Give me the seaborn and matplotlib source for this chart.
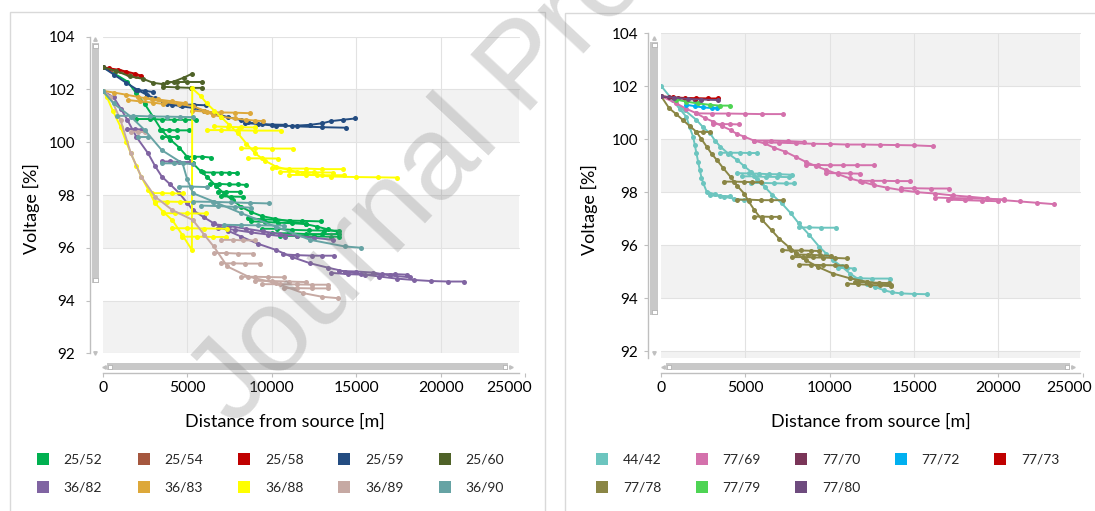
import numpy as np
import pandas as pd
import matplotlib
matplotlib.use("Agg")
import matplotlib.pyplot as plt
import matplotlib.transforms as mtransforms
from matplotlib.patches import Rectangle
from matplotlib.lines import Line2D
import seaborn as sns

# ---------------------------------------------------------------- data (left)
labels_left = ["25/52", "25/54", "25/58", "25/59", "25/60",
               "36/82", "36/83", "36/88", "36/89", "36/90"]
colors_left = ["#00B050", "#A5573E", "#C00000", "#234C81", "#4F6228",
               "#8064A2", "#DDA83A", "#FFFF00", "#C6A9A3", "#66A3A4"]

s25_52 = [
    [(0, 102.85), (700, 102.6), (1470, 102.3), (2000, 101.85), (2490, 101.45), (3000, 100.95),
     (3500, 100.45), (4000, 100.1), (4530, 99.8), (5000, 99.45), (5340, 99.2), (5800, 98.9),
     (6160, 98.7), (6700, 98.35), (7180, 98.05), (7700, 97.8), (8200, 97.55), (8800, 97.35),
     (9420, 97.2), (10200, 97.1), (11060, 97.0), (12000, 96.9), (12690, 96.8), (13300, 96.7),
     (13910, 96.6)],
    [(2000, 100.88), (2800, 100.88), (3500, 100.86), (4200, 100.85), (4900, 100.85), (5550, 100.85)],
    [(3400, 100.46), (3900, 100.46), (4400, 100.45), (5100, 100.45)],
    [(3500, 100.2), (3900, 100.2), (4370, 100.2)],
    [(4940, 99.45), (5400, 99.45), (5900, 99.45), (6400, 99.42)],
    [(5960, 98.86), (6500, 98.85), (7000, 98.85), (7500, 98.84), (7920, 98.83)],
    [(6360, 98.42), (6900, 98.42), (7500, 98.4), (8000, 98.4), (8500, 98.38)],
    [(6800, 98.13), (7300, 98.12), (8100, 98.12)],
    [(7000, 97.95), (7600, 97.94), (8300, 97.93)],
    [(8600, 97.12), (9400, 97.08), (10200, 97.06), (11000, 97.03), (11800, 97.02), (12900, 97.0)],
    [(8800, 97.0), (9600, 96.98), (10400, 96.95), (11200, 96.93), (12000, 96.9)],
    [(9420, 96.72), (10300, 96.72), (11200, 96.68), (12200, 96.66), (13100, 96.65), (14000, 96.65)],
    [(10000, 96.55), (11000, 96.55), (12000, 96.52), (13000, 96.52), (14000, 96.52)],
    [(10500, 96.45), (11500, 96.45), (12500, 96.43), (13500, 96.42), (14000, 96.42)],
]
s25_54 = [
    [(0, 102.85), (500, 102.75), (1000, 102.7), (1500, 102.6), (2000, 102.5)],
]
s25_58 = [
    [(0, 102.85), (400, 102.8), (900, 102.75), (1400, 102.68), (1900, 102.6), (2300, 102.52)],
]
s25_59 = [
    [(0, 102.85), (700, 102.55), (1400, 102.25), (2080, 101.98), (2600, 101.8), (3100, 101.66),
     (3600, 101.52), (4120, 101.42), (4700, 101.36), (5340, 101.3), (6000, 101.2), (6570, 101.1),
     (7400, 100.95), (8200, 100.84), (8600, 100.75), (9400, 100.68), (10240, 100.62),
     (11200, 100.62), (12280, 100.66), (13000, 100.72), (13500, 100.8), (14200, 100.85),
     (14930, 100.9)],
    [(2000, 101.98), (2500, 101.95), (3000, 101.9)],
    [(3800, 101.45), (4600, 101.43), (5400, 101.42), (6100, 101.4)],
    [(8400, 100.72), (9200, 100.7), (10000, 100.67), (10800, 100.66)],
    [(11500, 100.6), (13000, 100.57), (14420, 100.55)],
]
s25_60 = [
    [(0, 102.85), (800, 102.7), (1600, 102.5), (2400, 102.4), (3000, 102.25), (3600, 102.2),
     (4200, 102.3), (4800, 102.45), (5300, 102.6)],
    [(3800, 102.3), (4400, 102.3), (5000, 102.3), (5900, 102.3)],
    [(3600, 102.1), (4400, 102.08), (5200, 102.06), (5900, 102.06)],
]
s36_82 = [
    [(0, 101.95), (650, 101.7), (1100, 101.25), (1470, 100.84), (2000, 100.2), (2690, 99.58),
     (3100, 99.1), (3500, 98.7), (4000, 98.4), (4530, 98.07), (5000, 97.7), (5340, 97.43),
     (6000, 97.15), (6570, 96.93), (7400, 96.65), (8200, 96.42), (9200, 96.15), (10240, 95.92),
     (11200, 95.65), (12280, 95.41), (13300, 95.25), (14320, 95.1), (15300, 95.0),
     (16360, 94.91), (17400, 94.83), (18400, 94.78), (19400, 94.74), (20440, 94.72),
     (21360, 94.72)],
    [(1470, 100.5), (1900, 100.5), (2300, 100.48)],
    [(3500, 99.27), (4000, 99.27), (4500, 99.25), (5150, 99.25)],
    [(6500, 96.9), (7500, 96.82), (8500, 96.72), (9500, 96.62), (10500, 96.52), (11500, 96.45),
     (12500, 96.38), (13600, 96.3)],
    [(6800, 96.75), (7800, 96.68), (8800, 96.58), (9800, 96.5), (10800, 96.42)],
    [(10650, 95.75), (11500, 95.72), (12400, 95.7), (13000, 95.7), (13700, 95.7)],
    [(13500, 95.05), (14500, 95.0), (15500, 94.98), (16500, 95.0), (17300, 95.0), (18000, 94.98)],
    [(14000, 95.12), (15000, 95.1), (16000, 95.06), (17000, 94.95), (18200, 94.88)],
]
s36_83 = [
    [(0, 101.95), (700, 101.88), (1400, 101.8), (2080, 101.72), (2900, 101.62), (3700, 101.52),
     (4500, 101.45), (5340, 101.37), (6000, 101.2), (6500, 101.05), (6980, 100.97),
     (7800, 100.9), (8500, 100.85), (9000, 100.82), (9500, 100.8)],
    [(5300, 101.2), (6200, 101.15), (7000, 101.13), (7800, 101.12), (8700, 101.1)],
    [(1500, 101.6), (2200, 101.55), (3000, 101.5), (3600, 101.45)],
    [(2500, 101.68), (3300, 101.62), (4100, 101.55), (4900, 101.48)],
]
s36_88 = [
    [(0, 101.95), (245, 101.73), (600, 101.2), (1060, 100.59), (1400, 100.0), (1670, 99.58),
     (2000, 99.1), (2280, 98.7), (2700, 98.2), (3100, 97.69), (3600, 97.35), (4120, 97.05),
     (4700, 96.5), (5280, 95.92), (5300, 102.04), (5800, 101.75), (6160, 101.47),
     (6600, 101.2), (6980, 100.97), (7500, 100.65), (8000, 100.34), (8500, 99.95),
     (9020, 99.58), (9600, 99.3), (10240, 99.08), (11000, 98.95), (11870, 98.82),
     (12700, 98.75), (13500, 98.7), (15000, 98.68), (16300, 98.67), (17380, 98.66)],
    [(6160, 100.46), (7000, 100.46), (8000, 100.45), (9000, 100.44), (10550, 100.44)],
    [(6600, 100.6), (7400, 100.58), (8200, 100.57), (9000, 100.56)],
    [(8200, 99.77), (9000, 99.77), (10000, 99.76), (11260, 99.76)],
    [(8600, 99.39), (9400, 99.39), (10400, 99.38)],
    [(10040, 99.01), (11000, 99.0), (12000, 99.0), (13000, 98.98), (14220, 98.98)],
    [(11000, 98.76), (12000, 98.76), (13000, 98.75), (14300, 98.75)],
    [(10500, 98.88), (11500, 98.88), (12500, 98.86), (13600, 98.85)],
    [(2900, 98.07), (3500, 98.07), (4100, 98.06), (4730, 98.06)],
    [(3100, 97.75), (3800, 97.75), (4600, 97.74), (5340, 97.74)],
    [(3600, 97.31), (4300, 97.31), (5000, 97.3), (6100, 97.3)],
    [(4120, 96.74), (5000, 96.74), (6000, 96.73), (7380, 96.72)],
    [(4700, 96.42), (5600, 96.42), (6500, 96.41), (7300, 96.41)],
]
s36_89 = [
    [(0, 101.95), (450, 101.73), (1060, 100.84), (1670, 99.58), (2280, 98.7), (3100, 97.94),
     (4120, 97.43), (5340, 97.05), (6000, 96.5), (6570, 96.05), (7380, 95.29), (8600, 94.91),
     (10240, 94.66), (11870, 94.28), (13000, 94.14), (13910, 94.09)],
    [(1670, 100.4), (2100, 100.4), (2500, 100.38)],
    [(7000, 96.3), (7700, 96.3), (8300, 96.28), (9000, 96.28)],
    [(6600, 95.8), (7300, 95.8), (8000, 95.78), (8900, 95.78)],
    [(7000, 95.41), (7700, 95.41), (8400, 95.4), (9300, 95.4)],
    [(8200, 94.9), (9000, 94.9), (9800, 94.89), (10700, 94.88)],
    [(9420, 94.62), (10500, 94.62), (11500, 94.61), (12400, 94.6), (13300, 94.6)],
    [(10700, 94.47), (11500, 94.47), (12400, 94.46), (13300, 94.46)],
    [(9000, 94.75), (10000, 94.74), (11000, 94.72), (12000, 94.7)],
]
s36_90 = [
    [(0, 101.95), (650, 101.47), (1670, 100.97), (2490, 100.46), (3500, 99.7), (4730, 99.2),
     (5000, 98.6), (5340, 98.07), (6570, 97.75), (8200, 97.31), (10240, 96.8), (12280, 96.3),
     (14320, 96.05), (15300, 96.0)],
    [(860, 101.0), (1800, 101.0), (2800, 100.98), (3800, 100.97), (4600, 100.96), (5340, 100.95)],
    [(3500, 99.2), (4200, 99.2), (5340, 99.18)],
    [(4530, 98.32), (5200, 98.32), (6160, 98.3)],
    [(5340, 97.75), (6500, 97.74), (7600, 97.72), (8700, 97.7), (9830, 97.68)],
    [(5800, 97.6), (6800, 97.58), (7800, 97.55), (8800, 97.52)],
    [(7200, 96.87), (8200, 96.86), (9200, 96.85), (10700, 96.84)],
    [(2080, 100.19), (2700, 100.19)],
]

# --------------------------------------------------------------- data (right)
labels_right = ["44/42", "77/69", "77/70", "77/72", "77/73", "77/78", "77/79", "77/80"]
colors_right = ["#6CC5BF", "#D471AC", "#7A3558", "#00B0F0", "#C00000",
                "#8A8645", "#4ED454", "#6E4B7E"]

s44_42 = [
    [(0, 102.02), (690, 101.48), (1100, 101.15), (1500, 100.85), (1700, 100.45), (1900, 100.1),
     (2000, 99.8), (2100, 99.47), (2200, 99.15), (2300, 98.84), (2400, 98.55), (2510, 98.33),
     (2710, 98.02), (3200, 97.92), (3720, 97.83), (4300, 97.76), (4930, 97.7)],
    [(690, 101.48), (1400, 101.1), (2100, 100.73), (2500, 100.45), (2910, 100.22), (3200, 99.95),
     (3520, 99.72), (4000, 99.45), (4530, 99.21), (4900, 99.0), (5340, 98.77), (5700, 98.5),
     (6150, 98.2), (6600, 97.9), (7160, 97.58), (7700, 97.2), (8170, 96.82), (8800, 96.38),
     (9380, 95.94), (9800, 95.68), (10190, 95.44), (10700, 95.2), (11200, 94.93),
     (11700, 94.72), (12210, 94.55), (12700, 94.42), (13220, 94.3), (13700, 94.22),
     (14240, 94.18), (15000, 94.16), (15750, 94.15)],
    [(3520, 99.49), (4100, 99.49), (4700, 99.49), (5200, 99.48), (5700, 99.48)],
    [(4530, 98.72), (5200, 98.71), (5800, 98.7), (6400, 98.68), (7000, 98.68), (7760, 98.66)],
    [(4800, 98.6), (5500, 98.6), (6200, 98.58), (6900, 98.58), (7600, 98.57)],
    [(5340, 98.35), (6000, 98.35), (6700, 98.34), (7400, 98.33), (7880, 98.33)],
    [(8170, 96.67), (8800, 96.67), (9500, 96.66), (10400, 96.66)],
    [(10500, 95.14), (11000, 95.14), (11450, 95.12)],
    [(11200, 94.75), (11800, 94.75), (12500, 94.74), (13590, 94.74)],
    [(2900, 97.88), (3500, 97.86), (4100, 97.85)],
]
s77_69 = [
    [(0, 101.63), (890, 101.36), (1500, 101.15), (2100, 100.98), (2600, 100.8), (3110, 100.66),
     (3600, 100.5), (4120, 100.35), (4500, 100.2), (4930, 100.1), (5500, 99.95), (6150, 99.84),
     (6700, 99.68), (7360, 99.53), (8000, 99.33), (8570, 99.15), (9200, 98.98), (9790, 98.84),
     (10500, 98.68), (11200, 98.52), (11900, 98.4), (12620, 98.27), (13400, 98.17),
     (14240, 98.08), (15200, 98.0), (16260, 97.95), (17300, 97.88), (18280, 97.83),
     (19300, 97.77), (20300, 97.7), (21300, 97.65), (22300, 97.6), (23290, 97.55)],
    [(2100, 100.98), (3000, 100.97), (4000, 100.97), (5000, 100.96), (6000, 100.95), (7260, 100.95)],
    [(3110, 100.57), (3600, 100.57), (4100, 100.57), (4630, 100.56)],
    [(6150, 99.88), (7000, 99.87), (8000, 99.85), (9000, 99.83), (10000, 99.82), (11000, 99.8),
     (12000, 99.8), (13000, 99.79), (14000, 99.78), (15000, 99.77), (16110, 99.74)],
    [(5500, 99.95), (6500, 99.95), (7500, 99.93), (8500, 99.9)],
    [(8570, 99.03), (9300, 99.03), (10000, 99.02), (10800, 99.02), (11600, 99.02), (12620, 99.02)],
    [(9800, 98.72), (10500, 98.72), (11200, 98.71), (11800, 98.7)],
    [(11800, 98.43), (12500, 98.43), (13200, 98.43), (14000, 98.42), (14740, 98.42)],
    [(14240, 98.15), (15000, 98.15), (16000, 98.14), (17070, 98.14)],
    [(16260, 97.8), (17200, 97.78), (18300, 97.77), (19300, 97.75), (20300, 97.73)],
    [(17000, 97.72), (18000, 97.7), (19000, 97.68), (20000, 97.66)],
]
s77_70 = [
    [(0, 101.62), (500, 101.58), (1000, 101.55), (1500, 101.52), (2000, 101.5)],
]
s77_72 = [
    [(1500, 101.3), (2000, 101.25), (2500, 101.2), (3000, 101.18), (3300, 101.18)],
]
s77_73 = [
    [(0, 101.62), (700, 101.58), (1400, 101.56), (2100, 101.55), (2800, 101.54), (3360, 101.54)],
]
s77_78 = [
    [(0, 101.63), (485, 101.17), (900, 100.95), (1290, 100.73), (1700, 100.5), (2100, 100.28),
     (2400, 100.0), (2710, 99.72), (3000, 99.45), (3320, 99.21), (3700, 98.9), (4120, 98.58),
     (4500, 98.25), (4930, 97.95), (5200, 97.65), (5540, 97.32), (6000, 96.95), (6550, 96.57),
     (7000, 96.25), (7560, 95.94), (8000, 95.7), (8570, 95.44), (9300, 95.18), (10190, 94.93),
     (11200, 94.75), (12210, 94.62), (13000, 94.53), (13630, 94.49)],
    [(2100, 100.28), (2500, 100.28), (2900, 100.27)],
    [(3720, 98.4), (4300, 98.4), (4900, 98.39), (5400, 98.38), (5940, 98.38)],
    [(4530, 97.72), (5200, 97.72), (5900, 97.7), (6500, 97.7), (7260, 97.7)],
    [(5540, 97.08), (6000, 97.08), (6500, 97.07), (7000, 97.07)],
    [(7160, 95.82), (7700, 95.8), (8300, 95.8), (8900, 95.79), (9380, 95.78)],
    [(7760, 95.55), (8400, 95.55), (9000, 95.54), (9600, 95.53), (10300, 95.52), (11000, 95.5)],
    [(8000, 95.65), (8700, 95.64), (9400, 95.62), (10100, 95.6)],
    [(8200, 95.27), (8900, 95.26), (9600, 95.25), (10300, 95.24), (10950, 95.23)],
    [(11000, 94.55), (11700, 94.53), (12400, 94.5), (13000, 94.48), (13630, 94.45)],
    [(11500, 94.62), (12200, 94.6), (12900, 94.58), (13500, 94.57)],
]
s77_79 = [
    [(890, 101.5), (1500, 101.42), (2200, 101.35), (2900, 101.3), (3500, 101.27), (4080, 101.27)],
]
s77_80 = [
    [(0, 101.62), (800, 101.57), (1600, 101.52), (2400, 101.5), (3400, 101.48)],
]

series_left = [s25_52, s25_54, s25_58, s25_59, s25_60, s36_82, s36_83, s36_88, s36_89, s36_90]
series_right = [s44_42, s77_69, s77_70, s77_72, s77_73, s77_78, s77_79, s77_80]

x_ticks = [0, 5000, 10000, 15000, 20000, 25000]
y_ticks = [92, 94, 96, 98, 100, 102, 104]


def to_frame(labels, series):
    rows = []
    for lab, branches in zip(labels, series):
        for b, pts in enumerate(branches):
            for x, y in pts:
                rows.append((lab, f"{lab}#{b}", x, y))
    return pd.DataFrame(rows, columns=["feeder", "branch", "x", "y"])


df_left = to_frame(labels_left, series_left)
df_right = to_frame(labels_right, series_right)

# ---------------------------------------------------------------- styling
sns.set_theme(style="white")
plt.rcParams["font.family"] = ["Lato", "DejaVu Sans"]
plt.rcParams["axes.unicode_minus"] = False

W, H = 1095, 511
fig = plt.figure(figsize=(W / 100, H / 100), dpi=100)
fig.patch.set_facecolor("white")


def fx(px):
    return px / W


def fy(py):
    return 1 - py / H


GRID = "#E2E2E2"
BAND = "#F2F2F2"
AXC = "#BFBFBF"
SCROLL = "#C8C8C8"


def setup_axes(rect, ylim, bands, xmax_frac, ypad, spine_out_y, spine_out_x, last_shift_px):
    ax = fig.add_axes(rect)
    ax.set_xlim(0, 25000)
    ax.set_ylim(*ylim)
    ax.set_facecolor("none")
    for lo, hi in bands:
        ax.axhspan(lo, hi, xmin=0, xmax=xmax_frac, color=BAND, lw=0, zorder=0)
    for yv in y_ticks:
        if ylim[0] <= yv <= ylim[1]:
            ax.axhline(yv, xmin=0, xmax=xmax_frac, color=GRID, lw=0.8, zorder=0.5)
    for xv in x_ticks[1:-1]:
        ax.axvline(xv, color=GRID, lw=0.8, zorder=0.5)
    for s in ["top", "right"]:
        ax.spines[s].set_visible(False)
    ax.spines["left"].set_position(("outward", spine_out_y))
    ax.spines["bottom"].set_position(("outward", spine_out_x))
    for s in ["left", "bottom"]:
        ax.spines[s].set_color(AXC)
        ax.spines[s].set_linewidth(1.0)
    ax.spines["left"].set_bounds(ylim[0], 104)
    ax.spines["bottom"].set_bounds(0, 25000 * xmax_frac)
    ax.set_xticks(x_ticks)
    ax.set_xticklabels([str(v) for v in x_ticks])
    ax.set_yticks(y_ticks)
    ax.set_yticklabels([str(v) for v in y_ticks])
    ax.tick_params(axis="y", direction="out", length=3, width=0.8, color=AXC,
                   labelsize=11, pad=ypad, labelcolor="black", left=True)
    ax.tick_params(axis="x", direction="out", length=3, width=0.8, color=AXC,
                   labelsize=11.3, pad=2.5, labelcolor="black", bottom=True)
    last = ax.get_xticklabels()[-1]
    last.set_transform(last.get_transform() +
                       mtransforms.ScaledTranslation(-last_shift_px / 100, 0, fig.dpi_scale_trans))
    return ax


# left axes: x=0 at px 102.6, 25000 at px 525.4; 104 at py 36.7, 92 at py 353.3
axL = setup_axes([fx(102.6), fy(353.3), (525.4 - 102.6) / W, (353.3 - 36.7) / H],
                 (92, 104), [(92, 94), (96, 98), (100, 102)], 24640 / 25000,
                 ypad=7.5, spine_out_y=9.4, spine_out_x=14.4, last_shift_px=16)
# right axes: x=0 at px 661, 25000 at px 1082.8; 104 at py 33.3, bottom (91.73) at py 358.3
axR = setup_axes([fx(661), fy(358.3), (1082.8 - 661) / W, (358.3 - 33.3) / H],
                 (91.73, 104), [(91.73, 92), (94, 96), (98, 100), (102, 104)], 24850 / 25000,
                 ypad=4.0, spine_out_y=9.4, spine_out_x=10.8, last_shift_px=14)

line_kws = dict(marker="o", markersize=3.6, markeredgewidth=0, linewidth=1.4,
                estimator=None, sort=False, legend=False)
sns.lineplot(data=df_left, x="x", y="y", hue="feeder", units="branch",
             hue_order=labels_left, palette=colors_left, ax=axL, **line_kws)
sns.lineplot(data=df_right, x="x", y="y", hue="feeder", units="branch",
             hue_order=labels_right, palette=colors_right, ax=axR, **line_kws)

for ax, ylab_x, ycen_px, xcen_px, x0, x1, y0, y1 in [
        (axL, 31, 209, 284.5, 102.6, 525.4, 36.7, 353.3),
        (axR, 589.5, 210, 871, 661, 1082.8, 33.3, 358.3)]:
    ax.set_ylabel("Voltage [%]", fontsize=13, color="black", va="center")
    ax.set_xlabel("Distance from source [m]", fontsize=13, color="black", va="center")
    ax.yaxis.set_label_coords((ylab_x - x0) / (x1 - x0), (y1 - ycen_px) / (y1 - y0))
    ax.xaxis.set_label_coords((xcen_px - x0) / (x1 - x0), (y1 - 421.7) / (y1 - y0))

# ---------------------------------------------------------------- chrome
def prect(x0, y0, x1, y1, **kw):
    r = Rectangle((fx(x0), fy(y1)), (x1 - x0) / W, (y1 - y0) / H,
                  transform=fig.transFigure, **kw)
    fig.add_artist(r)
    return r


# panel frames
prect(9.8, 12, 544.6, 530, fill=False, edgecolor="#D9D9D9", lw=1.0)
prect(564.5, 13, 1110, 530, fill=False, edgecolor="#D9D9D9", lw=1.0)

# scrollbars
for (vx0, vx1, vy0, vy1, hx0, hx1) in [(91.5, 99, 43, 283, 107, 508),
                                       (650, 658, 41.7, 315, 666, 1070)]:
    prect(vx0, vy0, vx1, vy1, facecolor=SCROLL, edgecolor="none")
    prect(vx0 + 1.5, vy0 + 1, vx1 - 1.5, vy0 + 5, facecolor="white", edgecolor="#AAAAAA", lw=0.5)
    prect(vx0 + 1.5, vy1 - 5, vx1 - 1.5, vy1 - 1, facecolor="white", edgecolor="#AAAAAA", lw=0.5)
    prect(hx0, 363.3, hx1, 370, facecolor=SCROLL, edgecolor="none")
    prect(hx0 + 1, 364.5, hx0 + 5, 368.8, facecolor="white", edgecolor="#AAAAAA", lw=0.5)
    prect(hx1 - 5, 364.5, hx1 - 1, 368.8, facecolor="white", edgecolor="#AAAAAA", lw=0.5)
    vc = (vx0 + vx1) / 2
    fig.add_artist(Line2D([fx(vc)], [fy(vy0 - 4)], marker="^", ms=2.5, color="#C0C0C0",
                          transform=fig.transFigure))
    fig.add_artist(Line2D([fx(vc)], [fy(352.5)], marker="v", ms=2.5, color="#C0C0C0",
                          transform=fig.transFigure))
    fig.add_artist(Line2D([fx(hx0 - 3)], [fy(366.6)], marker="<", ms=2.5, color="#C0C0C0",
                          transform=fig.transFigure))
    fig.add_artist(Line2D([fx(hx1 + 3)], [fy(366.6)], marker=">", ms=2.5, color="#C0C0C0",
                          transform=fig.transFigure))


# legends (row-major order as in the reference)
def make_handles(labels, colors, order):
    hs = [Line2D([], [], marker="s", linestyle="", markersize=8.5, color=c,
                 markeredgewidth=0, label=l) for l, c in zip(labels, colors)]
    return [hs[i] for i in order]


legL = fig.legend(handles=make_handles(labels_left, colors_left, [0, 5, 1, 6, 2, 7, 3, 8, 4, 9]),
                  ncol=5, loc="upper left", bbox_to_anchor=(fx(36), fy(454)),
                  frameon=False, fontsize=10, handlelength=1.0, handletextpad=1.0,
                  columnspacing=2.45, labelspacing=1.15, borderpad=0, borderaxespad=0)
legR = fig.legend(handles=make_handles(labels_right, colors_right, [0, 5, 1, 6, 2, 7, 3, 4]),
                  ncol=5, loc="upper left", bbox_to_anchor=(fx(595), fy(454)),
                  frameon=False, fontsize=10, handlelength=1.0, handletextpad=1.0,
                  columnspacing=2.4, labelspacing=1.15, borderpad=0, borderaxespad=0)

# watermark
fig.text(fx(235), fy(428), "Journal Pre-proof", rotation=47, rotation_mode="anchor",
         ha="left", va="baseline", fontsize=86, family=["Liberation Sans", "DejaVu Sans"],
         color="#7F7F7F", alpha=0.28, zorder=50)

fig.savefig("out.png", dpi=100, facecolor="white")
